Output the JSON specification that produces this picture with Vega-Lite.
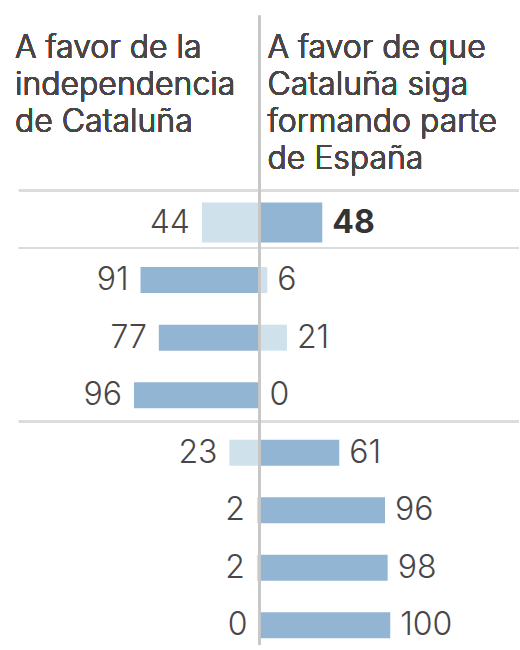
{
  "$schema": "https://vega.github.io/schema/vega-lite/v6.json",
  "width": 520,
  "height": 650,
  "autosize": {"type": "fit", "contains": "padding"},
  "padding": 0,
  "background": "white",
  "view": {"stroke": null},
  "config": {"text": {"font": "Inter", "fontSize": 32, "fontWeight": 300, "color": "#4a4648"}},
  "data": {
    "values": [
      {"fila": 1, "lado": "independencia", "porcentaje": 44, "x": -44, "mayoria": false},
      {"fila": 1, "lado": "España", "porcentaje": 48, "x": 48, "mayoria": true},
      {"fila": 2, "lado": "independencia", "porcentaje": 91, "x": -91, "mayoria": true},
      {"fila": 2, "lado": "España", "porcentaje": 6, "x": 6, "mayoria": false},
      {"fila": 3, "lado": "independencia", "porcentaje": 77, "x": -77, "mayoria": true},
      {"fila": 3, "lado": "España", "porcentaje": 21, "x": 21, "mayoria": false},
      {"fila": 4, "lado": "independencia", "porcentaje": 96, "x": -96, "mayoria": true},
      {"fila": 4, "lado": "España", "porcentaje": 0, "x": 0, "mayoria": false},
      {"fila": 5, "lado": "independencia", "porcentaje": 23, "x": -23, "mayoria": false},
      {"fila": 5, "lado": "España", "porcentaje": 61, "x": 61, "mayoria": true},
      {"fila": 6, "lado": "independencia", "porcentaje": 2, "x": -2, "mayoria": false},
      {"fila": 6, "lado": "España", "porcentaje": 96, "x": 96, "mayoria": true},
      {"fila": 7, "lado": "independencia", "porcentaje": 2, "x": -2, "mayoria": false},
      {"fila": 7, "lado": "España", "porcentaje": 98, "x": 98, "mayoria": true},
      {"fila": 8, "lado": "independencia", "porcentaje": 0, "x": 0, "mayoria": false},
      {"fila": 8, "lado": "España", "porcentaje": 100, "x": 100, "mayoria": true}
    ]
  },
  "encoding": {
    "y": {"field": "fila", "type": "quantitative", "scale": {"domain": [-2.782, 8.342], "reverse": true, "nice": false, "zero": false}, "axis": null},
    "x": {"field": "x", "type": "quantitative", "scale": {"domain": [-198.47, 198.47], "nice": false, "zero": false}, "axis": null}
  },
  "layer": [
    {
      "mark": {"type": "rule", "color": "#dcdcdc", "strokeWidth": 2},
      "encoding": {"x": {"datum": -184}, "x2": {"datum": 198.47}, "y": {"datum": 0.44}}
    },
    {
      "mark": {"type": "rule", "color": "#dcdcdc", "strokeWidth": 2},
      "encoding": {"x": {"datum": -184}, "x2": {"datum": 198.47}, "y": {"datum": 1.44}}
    },
    {
      "mark": {"type": "rule", "color": "#dcdcdc", "strokeWidth": 2},
      "encoding": {"x": {"datum": -184}, "x2": {"datum": 198.47}, "y": {"datum": 4.452}}
    },
    {
      "transform": [{"filter": "datum.fila == 1"}],
      "mark": {"type": "bar", "orient": "horizontal", "size": 40},
      "encoding": {
        "x2": {"datum": 0},
        "color": {"condition": {"test": "datum.mayoria", "value": "#92b5d3"}, "value": "#cfe2ec"}
      }
    },
    {
      "transform": [{"filter": "datum.fila > 1"}],
      "mark": {"type": "bar", "orient": "horizontal", "size": 26},
      "encoding": {
        "x2": {"datum": 0},
        "color": {"condition": {"test": "datum.mayoria", "value": "#92b5d3"}, "value": "#cfe2ec"}
      }
    },
    {
      "mark": {"type": "rule", "color": "#c8c8c8", "strokeWidth": 1.5},
      "encoding": {"x": {"datum": 0}, "y": {"datum": -2.594}, "y2": {"datum": 8.342}}
    },
    {
      "transform": [{"filter": "datum.lado == 'independencia'"}],
      "mark": {"type": "text", "align": "right", "baseline": "middle", "dx": -12},
      "encoding": {"text": {"field": "porcentaje", "type": "quantitative"}}
    },
    {
      "transform": [{"filter": "datum.lado == 'España' && datum.fila > 1"}],
      "mark": {"type": "text", "align": "left", "baseline": "middle", "dx": 10},
      "encoding": {"text": {"field": "porcentaje", "type": "quantitative"}}
    },
    {
      "transform": [{"filter": "datum.lado == 'España' && datum.fila == 1"}],
      "mark": {"type": "text", "align": "left", "baseline": "middle", "dx": 10, "fontWeight": "bold", "color": "#333333"},
      "encoding": {"text": {"field": "porcentaje", "type": "quantitative"}}
    },
    {
      "mark": {"type": "text", "align": "left", "baseline": "alphabetic", "lineBreak": "\n", "lineHeight": 36.7},
      "encoding": {
        "x": {"datum": -187},
        "y": {"datum": -1.853},
        "text": {"value": "A favor de la\nindependencia\nde Cataluña"}
      }
    },
    {
      "mark": {"type": "text", "align": "left", "baseline": "alphabetic", "lineBreak": "\n", "lineHeight": 36.7},
      "encoding": {
        "x": {"datum": 6.1},
        "y": {"datum": -1.853},
        "text": {"value": "A favor de que\nCataluña siga\nformando parte\nde España"}
      }
    }
  ]
}
